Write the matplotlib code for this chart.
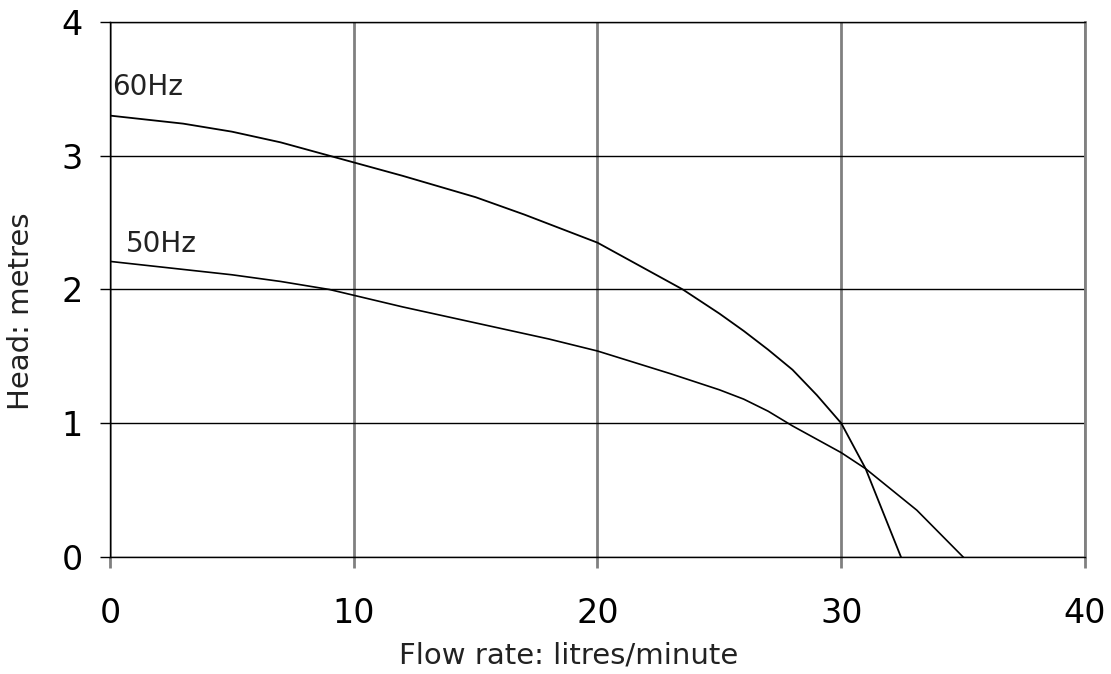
import matplotlib
matplotlib.use("Agg")
import matplotlib.pyplot as plt

# pump curves
flow_60 = [0, 3, 5, 7, 9, 12, 15, 17, 20, 22, 23.5, 25, 26, 27, 28, 29, 30, 31, 32.45]
head_60 = [3.30, 3.24, 3.18, 3.10, 3.00, 2.85, 2.69, 2.56, 2.35, 2.15, 2.00, 1.82, 1.69, 1.55, 1.40, 1.21, 1.00, 0.66, 0.0]

flow_50 = [0, 3, 5, 7, 9, 12, 15, 18, 20, 23, 25, 26, 27, 28, 30, 31, 33.1, 35]
head_50 = [2.21, 2.15, 2.11, 2.06, 2.00, 1.87, 1.75, 1.63, 1.54, 1.37, 1.25, 1.18, 1.09, 0.98, 0.78, 0.66, 0.35, 0.0]

x_ticks = [0, 10, 20, 30, 40]
y_ticks = [0, 1, 2, 3, 4]

plt.rcParams['font.family'] = ['DejaVu Sans']

fig = plt.figure(figsize=(11.11, 6.74), dpi=100)
ax = fig.add_axes([0.099, 0.1736, 0.8776, 0.7938])

ax.plot(flow_60, head_60, color='black', lw=1.3)
ax.plot(flow_50, head_50, color='black', lw=1.2)

ax.text(0.08, 3.455, '60Hz', fontsize=20, color='#222222')
ax.text(0.66, 2.28, '50Hz', fontsize=20, color='#222222')

ax.set_xlim(0, 40)
ax.set_ylim(0, 4)
ax.set_xticks(x_ticks)
ax.set_yticks(y_ticks)

ax.xaxis.grid(True, color='#808080', lw=2)
ax.yaxis.grid(True, color='black', lw=1)
ax.set_axisbelow(True)

ax.tick_params(axis='x', direction='out', length=8, width=2, color='#808080',
               labelsize=24, pad=21)
ax.tick_params(axis='y', direction='out', length=7.5, width=1, color='black',
               labelsize=24, pad=12)

for s in ['left', 'top', 'bottom']:
    ax.spines[s].set_color('black')
    ax.spines[s].set_linewidth(1)
ax.spines['right'].set_color('#808080')
ax.spines['right'].set_linewidth(2)

ax.set_xlabel('Flow rate: litres/minute', fontsize=21, color='#222222')
ax.set_ylabel('Head: metres', fontsize=21, color='#222222')
ax.xaxis.set_label_coords(0.47, -0.158)
ax.yaxis.set_label_coords(-0.077, 0.46)

fig.savefig('out.png', dpi=100)
